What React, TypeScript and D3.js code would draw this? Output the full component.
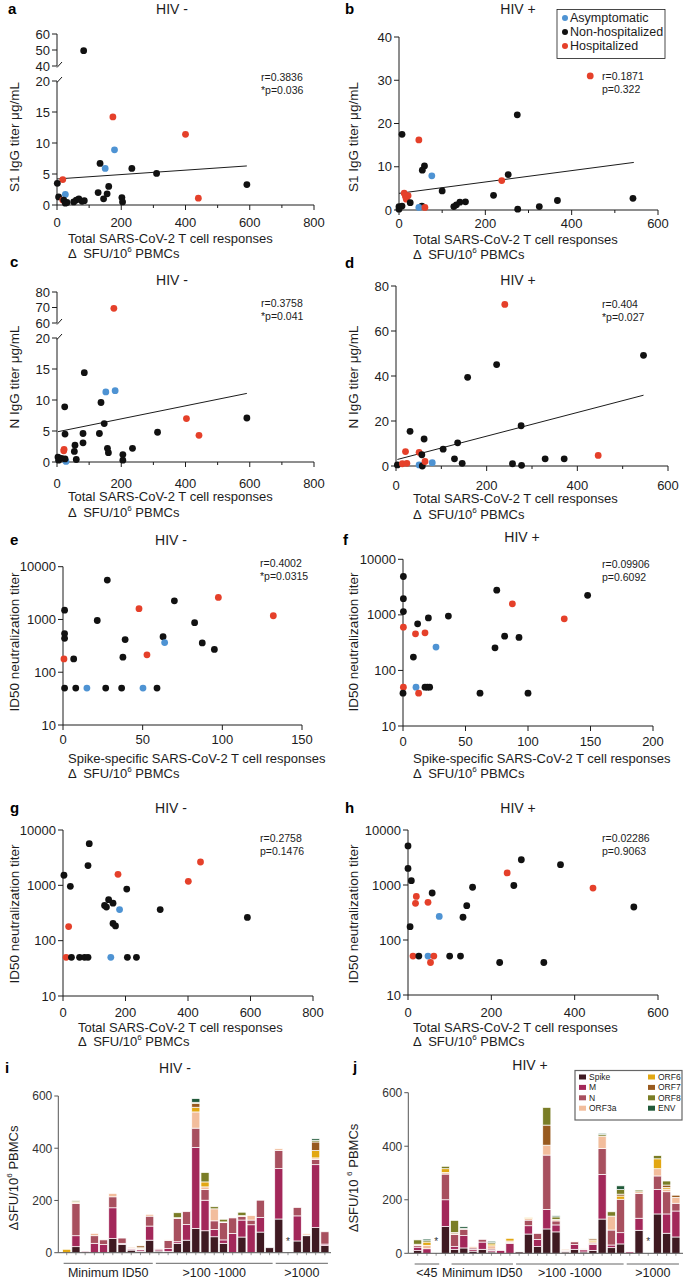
import * as d3 from 'd3'

type Grp = 'A' | 'N' | 'H'
type Pt = [number, number, Grp]

// scatter data: [T cell response, antibody / ID50, clinical group]
const aPts: Pt[] = [
  [83, 49.6, 'N'], [174, 14.2, 'H'], [400, 11.4, 'H'], [179, 8.9, 'A'], [134, 6.7, 'N'], [150, 5.9, 'A'],
  [233, 5.9, 'N'], [310, 5.1, 'N'], [18, 4.1, 'H'], [1, 3.5, 'N'], [591, 3.3, 'N'], [161, 3.0, 'N'],
  [26, 1.7, 'A'], [5, 1.3, 'N'], [128, 2.0, 'N'], [156, 1.8, 'N'], [145, 1.0, 'N'], [202, 1.2, 'N'],
  [204, 0.5, 'N'], [440, 1.1, 'H'], [18, 0.8, 'H'], [21, 0.8, 'N'], [26, 0.3, 'N'], [52, 0.5, 'N'],
  [60, 0.8, 'N'], [78, 0.6, 'N'], [31, 0.4, 'N'], [68, 1.0, 'N'], [85, 0.7, 'N'],
]
const bPts: Pt[] = [
  [7, 17.5, 'N'], [46, 16.2, 'H'], [274, 22.0, 'N'], [59, 10.2, 'N'], [54, 9.2, 'N'], [76, 7.9, 'A'],
  [253, 8.2, 'N'], [238, 6.8, 'H'], [100, 4.4, 'N'], [12, 3.9, 'H'], [15, 3.1, 'H'], [21, 3.3, 'H'],
  [17, 2.5, 'H'], [26, 1.7, 'N'], [219, 3.4, 'N'], [542, 2.7, 'N'], [367, 2.2, 'N'], [154, 1.9, 'N'],
  [141, 1.8, 'N'], [133, 1.2, 'N'], [127, 0.8, 'N'], [325, 0.8, 'N'], [275, 0.2, 'N'], [53, 0.9, 'N'],
  [46, 0.6, 'A'], [60, 0.6, 'H'], [0, 0.8, 'N'], [7, 0.9, 'N'], [0, 0.2, 'N'], [443, 31.0, 'H'],
]
const cPts: Pt[] = [
  [177, 69.5, 'H'], [85, 14.4, 'N'], [152, 11.3, 'A'], [181, 11.5, 'A'], [24, 8.9, 'N'], [137, 9.6, 'N'],
  [147, 6.2, 'N'], [591, 7.1, 'N'], [403, 7.0, 'H'], [442, 4.3, 'H'], [313, 4.8, 'N'], [25, 4.5, 'N'],
  [81, 4.6, 'N'], [132, 4.6, 'N'], [56, 2.7, 'N'], [81, 3.1, 'N'], [54, 1.7, 'N'], [22, 2.05, 'H'],
  [21, 1.8, 'H'], [157, 2.2, 'N'], [160, 1.5, 'N'], [235, 2.2, 'N'], [205, 1.2, 'N'], [3, 0.8, 'N'],
  [5, 0.3, 'N'], [28, 0.1, 'A'], [25, 0.5, 'N'], [60, 0.4, 'N'], [205, 0.3, 'N'], [14, 0.6, 'N'],
]
const dPts: Pt[] = [
  [240, 71.8, 'H'], [546, 49.2, 'N'], [222, 45.1, 'N'], [158, 39.4, 'N'], [276, 17.9, 'N'], [31, 15.4, 'N'],
  [62, 12.0, 'N'], [136, 10.3, 'N'], [104, 7.5, 'N'], [21, 6.4, 'H'], [51, 6.1, 'H'], [57, 5.0, 'N'],
  [129, 3.2, 'N'], [329, 3.2, 'N'], [371, 3.2, 'N'], [446, 4.7, 'H'], [3, 0.5, 'N'], [14, 1.0, 'H'],
  [24, 1.2, 'H'], [51, 0.5, 'A'], [58, 0.0, 'N'], [64, 2.0, 'H'], [80, 1.5, 'A'], [146, 1.2, 'N'],
  [257, 1.0, 'N'], [277, 0.3, 'N'],
]
const ePts: Pt[] = [
  [27.8, 5580, 'N'], [1, 1500, 'N'], [47.7, 1600, 'H'], [69.9, 2260, 'N'], [97.5, 2620, 'H'], [132, 1175, 'H'],
  [21.5, 955, 'N'], [82.6, 870, 'N'], [1, 540, 'N'], [1, 440, 'N'], [62.8, 470, 'N'], [63.8, 365, 'A'],
  [39, 415, 'N'], [87.4, 360, 'N'], [95, 270, 'N'], [0.6, 179, 'H'], [6.7, 179, 'N'], [37.6, 193, 'N'],
  [52.7, 214, 'H'], [1, 50, 'N'], [8, 50, 'N'], [15, 50, 'A'], [26.8, 50, 'N'], [36.8, 50, 'N'],
  [50.2, 50, 'A'], [59, 50, 'N'],
]
const fPts: Pt[] = [
  [0.3, 4900, 'N'], [0.3, 1960, 'N'], [0.3, 1145, 'N'], [0.3, 600, 'H'], [75, 2780, 'N'], [87.5, 1580, 'H'],
  [147.7, 2250, 'N'], [129, 850, 'H'], [36.3, 950, 'N'], [20.3, 880, 'N'], [11.7, 690, 'N'], [10, 455, 'H'],
  [17.6, 475, 'H'], [26.4, 263, 'A'], [73.6, 255, 'N'], [81.3, 414, 'N'], [92.8, 392, 'N'], [8.3, 174, 'N'],
  [0.3, 50, 'H'], [10.4, 50, 'A'], [17.6, 50, 'N'], [19.5, 50, 'N'], [21.3, 50, 'N'], [0, 39, 'N'],
  [12.5, 39, 'H'], [61.6, 39, 'N'], [100, 39, 'N'],
]
const gPts: Pt[] = [
  [84, 5650, 'N'], [80, 2280, 'N'], [3, 1520, 'N'], [23.5, 960, 'N'], [176, 1580, 'H'], [440, 2640, 'H'],
  [401, 1180, 'H'], [204, 855, 'N'], [146, 550, 'N'], [160, 475, 'N'], [133, 433, 'N'], [139, 404, 'N'],
  [181, 364, 'A'], [311, 364, 'N'], [590, 263, 'N'], [18, 180, 'H'], [160, 205, 'N'], [168, 185, 'N'],
  [10, 50, 'H'], [27, 50, 'N'], [53, 50, 'N'], [69, 50, 'N'], [80, 50, 'N'], [153, 50, 'A'],
  [206, 50, 'N'], [235, 50, 'N'],
]
const hPts: Pt[] = [
  [0, 5130, 'N'], [0, 2000, 'N'], [8, 1200, 'N'], [272, 2880, 'N'], [366, 2340, 'N'], [238, 1660, 'H'],
  [254, 980, 'N'], [444, 880, 'H'], [155, 910, 'N'], [58, 716, 'N'], [20, 620, 'H'], [18, 465, 'H'],
  [48, 485, 'H'], [141, 420, 'N'], [542, 398, 'N'], [75, 268, 'A'], [132, 259, 'N'], [5, 175, 'N'],
  [12, 51, 'H'], [26, 51, 'N'], [48, 51, 'A'], [62, 51, 'H'], [54, 39, 'H'], [100, 51, 'N'],
  [126, 51, 'N'], [220, 39, 'N'], [326, 39, 'N'],
]

// linear fits (a-d): intercept, slope, x span
const fitA = { b0: 4.2, b1: 0.00355, from: 0, to: 591 }
const fitB = { b0: 3.85, b1: 0.01314, from: 0, to: 544 }
const fitC = { b0: 4.86, b1: 0.0105, from: 3, to: 591 }
const fitD = { b0: 2.74, b1: 0.0526, from: 3, to: 546 }

const statsA = ['r=0.3836', '*p=0.036']
const statsB = ['r=0.1871', 'p=0.322']
const statsC = ['r=0.3758', '*p=0.041']
const statsD = ['r=0.404', '*p=0.027']
const statsE = ['r=0.4002', '*p=0.0315']
const statsF = ['r=0.09906', 'p=0.6092']
const statsG = ['r=0.2758', 'p=0.1476']
const statsH = ['r=0.02286', 'p=0.9063']

const groupNames: [Grp, string][] = [['A', 'Asymptomatic'], ['N', 'Non-hospitalized'], ['H', 'Hospitalized']]

// bar data (i: HIV-, j: HIV+), SFU per antigen
const barKeys = ['Spike', 'M', 'N', 'ORF3a', 'ORF6', 'ORF7', 'ORF8', 'ENV']
const spikeI = [0, 23, 0, 0, 0, 54, 32, 10, 5, 48, 6, 4, 36, 48, 93, 84, 61, 36, 0, 60, 0, 79, 19, 129, 0, 45, 65, 96, 27]
const mI = [0, 42, 5, 36, 31, 118, 4, 4, 6, 54, 5, 12, 6, 60, 310, 117, 28, 13, 74, 65, 107, 56, 0, 193, 0, 96, 0, 241, 6]
const nI = [0, 124, 0, 29, 18, 42, 20, 3, 3, 38, 4, 31, 89, 49, 74, 41, 33, 66, 59, 13, 18, 66, 0, 70, 0, 32, 3, 20, 47]
const orf3aI = [0, 3, 0, 9, 0, 13, 0, 4, 3, 7, 3, 2, 3, 0, 62, 10, 46, 3, 0, 4, 17, 0, 0, 6, 0, 0, 5, 6, 0]
const orf6I = [13, 3, 0, 0, 0, 0, 0, 0, 2, 0, 0, 0, 0, 0, 18, 19, 0, 0, 0, 0, 0, 0, 0, 0, 0, 0, 0, 28, 0]
const orf7I = [0, 0, 0, 0, 0, 0, 0, 0, 7, 0, 0, 0, 0, 0, 15, 0, 0, 0, 0, 0, 0, 0, 0, 0, 0, 0, 0, 33, 0]
const orf8I = [0, 4, 0, 0, 0, 0, 0, 0, 0, 0, 0, 0, 19, 0, 4, 36, 8, 10, 0, 13, 0, 0, 0, 0, 0, 0, 0, 6, 0]
const envI = [0, 0, 0, 0, 0, 0, 0, 0, 0, 0, 0, 0, 0, 0, 14, 0, 0, 0, 0, 0, 0, 0, 0, 0, 0, 0, 0, 6, 0]

const spikeJ = [10, 0, 0, 100, 15, 20, 8, 15, 5, 0, 0, 5, 72, 25, 91, 80, 5, 15, 5, 11, 128, 21, 35, 0, 86, 0, 147, 75, 61]
const mJ = [13, 17, 0, 100, 10, 46, 6, 27, 6, 10, 37, 0, 31, 27, 73, 26, 3, 18, 8, 22, 167, 10, 42, 5, 45, 0, 92, 72, 97]
const nJ = [6, 0, 0, 96, 45, 24, 6, 10, 5, 0, 3, 0, 21, 22, 203, 15, 3, 10, 3, 5, 97, 56, 125, 0, 93, 0, 50, 83, 29]
const orf3aJ = [5, 13, 0, 6, 3, 3, 5, 0, 12, 0, 6, 0, 6, 0, 37, 6, 4, 3, 3, 5, 46, 52, 0, 0, 6, 0, 27, 10, 22]
const orf6J = [0, 12, 0, 14, 0, 0, 0, 0, 7, 0, 10, 0, 3, 0, 0, 0, 0, 0, 0, 6, 0, 0, 12, 0, 0, 0, 37, 6, 0]
const orf7J = [0, 0, 0, 0, 5, 0, 0, 0, 0, 0, 0, 0, 0, 0, 75, 0, 0, 0, 0, 5, 0, 0, 7, 0, 0, 0, 0, 9, 8]
const orf8J = [16, 5, 0, 9, 45, 0, 0, 0, 5, 0, 0, 0, 0, 0, 66, 9, 0, 0, 0, 3, 6, 16, 17, 0, 6, 0, 12, 15, 0]
const envJ = [0, 6, 0, 0, 0, 6, 0, 0, 5, 0, 0, 0, 0, 0, 0, 4, 0, 0, 0, 0, 4, 0, 14, 0, 0, 0, 0, 0, 0]

const groupsI = [{ label: 'Minimum ID50', from: 0, to: 9 }, { label: '>100 -1000', from: 10, to: 22 }, { label: '>1000', from: 23, to: 28 }]
const groupsJ = [{ label: '<45', from: 0, to: 2 }, { label: 'Minimum ID50', from: 4, to: 10 }, { label: '>100 -1000', from: 11, to: 22 }, { label: '>1000', from: 23, to: 28 }]
const starsI = [24]
const starsJ = [2, 25]

const FONT = "'Liberation Sans', Arial, Helvetica, sans-serif"
const INK = '#1c1c1c'
const dotColor: Record<Grp, string> = { A: '#4e93d3', N: '#111111', H: '#e5402a' }
const barColor: Record<string, string> = {
  Spike: '#3f1a22', M: '#a3285a', N: '#a8505f', ORF3a: '#f2bd9c',
  ORF6: '#e2a712', ORF7: '#985a1f', ORF8: '#7a7d26', ENV: '#215a3a',
}

const SFU = 'Δ\u2002SFU/10'

const scatterPanels: any[] = [
  { letter: 'a', lx: 8, ly: 9, title: 'HIV -', tx: 172, ty: 9, xr: [57, 314], xd: [0, 800], xt: [0, 200, 400, 600, 800], xm: [100, 300, 500, 700],
    xty: 222, xl: 'Total SARS-CoV-2 T cell responses', xlx: 68, xly: [238, 253],
    y: { kind: 'broken', lo: [0, 20], loR: [205, 81], hi: [40, 60], hiR: [66, 34], loT: [0, 5, 10, 15, 20], hiT: [40, 50, 60] },
    yl: 'S1 IgG titer μg/mL', ylx: 14, yly: 137, pts: aPts, fit: fitA, stats: statsA, sx: 261, sy: 77 },
  { letter: 'b', lx: 345, ly: 9, title: 'HIV +', tx: 518, ty: 9, xr: [399, 658], xd: [0, 600], xt: [0, 200, 400, 600], xm: [100, 300, 500],
    xty: 223, xl: 'Total SARS-CoV-2 T cell responses', xlx: 413, xly: [239, 254],
    y: { kind: 'linear', d: [0, 40], r: [210, 37], t: [0, 10, 20, 30, 40] },
    yl: 'S1 IgG titer μg/mL', ylx: 353, yly: 137, pts: bPts, fit: fitB, stats: statsB, sx: 602, sy: 76, legend: true },
  { letter: 'c', lx: 10, ly: 262, title: 'HIV -', tx: 172, ty: 280, xr: [57, 314], xd: [0, 800], xt: [0, 200, 400, 600, 800], xm: [100, 300, 500, 700],
    xty: 483, xl: 'Total SARS-CoV-2 T cell responses', xlx: 68, xly: [496, 512],
    y: { kind: 'broken', lo: [0, 20], loR: [462, 338], hi: [60, 80], hiR: [323, 292], loT: [0, 5, 10, 15, 20], hiT: [60, 70, 80] },
    yl: 'N IgG titer μg/mL', ylx: 14, yly: 377, pts: cPts, fit: fitC, stats: statsC, sx: 261, sy: 303 },
  { letter: 'd', lx: 345, ly: 263, title: 'HIV +', tx: 518, ty: 280, xr: [396, 668], xd: [0, 600], xt: [0, 200, 400, 600], xm: [100, 300, 500],
    xty: 485, xl: 'Total SARS-CoV-2 T cell responses', xlx: 413, xly: [498, 514],
    y: { kind: 'linear', d: [0, 80], r: [466, 286], t: [0, 20, 40, 60, 80] },
    yl: 'N IgG titer μg/mL', ylx: 353, yly: 377, pts: dPts, fit: fitD, stats: statsD, sx: 602, sy: 304 },
  { letter: 'e', lx: 10, ly: 540, title: 'HIV -', tx: 171, ty: 540, xr: [63, 302], xd: [0, 150], xt: [0, 50, 100, 150], xm: [],
    xty: 739, xl: 'Spike-specific SARS-CoV-2 T cell responses', xlx: 68, xly: [758, 773],
    y: { kind: 'log', d: [10, 10000], r: [725, 566.7], t: [10, 100, 1000, 10000] },
    yl: 'ID50 neutralization titer', ylx: 14, yly: 642, pts: ePts, stats: statsE, sx: 260, sy: 563 },
  { letter: 'f', lx: 343, ly: 540, title: 'HIV +', tx: 522, ty: 537, xr: [403, 653], xd: [0, 200], xt: [0, 50, 100, 150, 200], xm: [],
    xty: 741, xl: 'Spike-specific SARS-CoV-2 T cell responses', xlx: 413, xly: [758, 773],
    y: { kind: 'log', d: [10, 10000], r: [726, 559.3], t: [10, 100, 1000, 10000] },
    yl: 'ID50 neutralization titer', ylx: 353, yly: 642, pts: fPts, stats: statsF, sx: 602, sy: 564 },
  { letter: 'g', lx: 10, ly: 808, title: 'HIV -', tx: 171, ty: 808, xr: [63, 313], xd: [0, 800], xt: [0, 200, 400, 600, 800], xm: [],
    xty: 1012, xl: 'Total SARS-CoV-2 T cell responses', xlx: 78, xly: [1027, 1041],
    y: { kind: 'log', d: [10, 10000], r: [996, 830], t: [10, 100, 1000, 10000] },
    yl: 'ID50 neutralization titer', ylx: 14, yly: 914, pts: gPts, stats: statsG, sx: 260, sy: 838 },
  { letter: 'h', lx: 345, ly: 808, title: 'HIV +', tx: 518, ty: 808, xr: [408, 658], xd: [0, 600], xt: [0, 200, 400, 600], xm: [],
    xty: 1012, xl: 'Total SARS-CoV-2 T cell responses', xlx: 413, xly: [1027, 1041],
    y: { kind: 'log', d: [10, 10000], r: [995, 830], t: [10, 100, 1000, 10000] },
    yl: 'ID50 neutralization titer', ylx: 353, yly: 914, pts: hPts, stats: statsH, sx: 602, sy: 838 },
]

function SfuText({ x, y, size, pre = SFU, anchor = 'start', rotate = false }: any) {
  return (
    <text x={x} y={y} fontSize={size} textAnchor={anchor} fill={INK}
      transform={rotate ? `rotate(-90 ${x} ${y})` : undefined}>
      {pre}<tspan dy={-size * 0.4} fontSize={size * 0.62}>6</tspan><tspan dy={size * 0.4}>{' PBMCs'}</tspan>
    </text>
  )
}

function Scatter({ p }: { p: any }) {
  const x = d3.scaleLinear().domain(p.xd).range(p.xr)
  const x0 = p.xr[0]
  let yPos: (v: number) => number
  let segs: number[][]
  let yTicks: { v: number; y: number }[]
  if (p.y.kind === 'broken') {
    const lo = d3.scaleLinear().domain(p.y.lo).range(p.y.loR)
    const hi = d3.scaleLinear().domain(p.y.hi).range(p.y.hiR)
    yPos = (v) => (v > p.y.lo[1] ? hi(v) : lo(v))
    segs = [p.y.loR, p.y.hiR]
    yTicks = [...p.y.loT.map((v: number) => ({ v, y: lo(v) })), ...p.y.hiT.map((v: number) => ({ v, y: hi(v) }))]
  } else {
    const s: any = p.y.kind === 'log' ? d3.scaleLog().domain(p.y.d).range(p.y.r) : d3.scaleLinear().domain(p.y.d).range(p.y.r)
    yPos = (v) => s(v)
    segs = [p.y.r]
    yTicks = p.y.t.map((v: number) => ({ v, y: s(v) }))
  }
  const base = segs[0][0]
  const line = d3.line<number>().x((v) => x(v)).y((v) => yPos(p.fit.b0 + p.fit.b1 * v))
  return (
    <g>
      <text x={p.lx} y={p.ly + 5} fontSize={15} fontWeight="bold" fill="#000">{p.letter}</text>
      <text x={p.tx} y={p.ty + 5} fontSize={14} textAnchor="middle" fill={INK}>{p.title}</text>
      {segs.map((s, i) => <line key={i} x1={x0} x2={x0} y1={s[0]} y2={s[1]} stroke={INK} />)}
      {p.y.kind === 'broken' && [p.y.loR[1], p.y.hiR[0]].map((yy: number, i: number) => (
        <line key={i} x1={x0} y1={yy + 1.5} x2={x0 + 5} y2={yy - 4} stroke={INK} />
      ))}
      <line x1={x0} x2={p.xr[1]} y1={base} y2={base} stroke={INK} />
      {yTicks.map((t) => (
        <g key={t.v}>
          <line x1={x0 - 5} x2={x0} y1={t.y} y2={t.y} stroke={INK} />
          <text x={x0 - 7} y={t.y + 4.5} fontSize={13} textAnchor="end" fill={INK}>{t.v}</text>
        </g>
      ))}
      {p.xt.map((v: number) => (
        <g key={v}>
          <line x1={x(v)} x2={x(v)} y1={base} y2={base + 5} stroke={INK} />
          <text x={x(v)} y={p.xty + 4.5} fontSize={13} textAnchor="middle" fill={INK}>{v}</text>
        </g>
      ))}
      {p.xm.map((v: number) => <line key={v} x1={x(v)} x2={x(v)} y1={base} y2={base + 3} stroke={INK} />)}
      <text x={p.xlx} y={p.xly[0] + 4.5} fontSize={13} fill={INK}>{p.xl}</text>
      <SfuText x={p.xlx} y={p.xly[1] + 4.5} size={13} />
      <text x={p.ylx} y={p.yly} fontSize={13.5} textAnchor="middle" fill={INK}
        transform={`rotate(-90 ${p.ylx} ${p.yly})`} dy={4.5}>{p.yl}</text>
      {p.fit && <path d={line([p.fit.from, p.fit.to]) || ''} stroke={INK} strokeWidth={1} fill="none" />}
      {p.pts.map((d: Pt, i: number) => (
        <circle key={i} cx={x(d[0])} cy={yPos(d[1])} r={3.4} fill={dotColor[d[2]]} />
      ))}
      {p.stats.map((s: string, i: number) => (
        <text key={i} x={p.sx} y={p.sy + i * 13.5 + 3.5} fontSize={10.5} fill={INK}>{s}</text>
      ))}
      {p.legend && (
        <g>
          <rect x={557} y={9.5} width={108} height={49} fill="#fff" stroke={INK} strokeWidth={0.8} />
          {groupNames.map(([g, name], i) => (
            <g key={g}>
              <circle cx={565} cy={18 + i * 14} r={3} fill={dotColor[g]} />
              <text x={570} y={18 + i * 14 + 4.3} fontSize={12.5} fill={INK}>{name}</text>
            </g>
          ))}
        </g>
      )}
    </g>
  )
}

const barPanels: any[] = [
  { letter: 'i', lx: 5, ly: 1068, title: 'HIV -', tx: 175, ty: 1068, ax: 58.3, xr: [62.1, 329.5], yr: [1252.7, 1096], axEnd: 331,
    series: [spikeI, mI, nI, orf3aI, orf6I, orf7I, orf8I, envI], groups: groupsI, stars: starsI, gy: 1263.3, ylx: 13, yly: 1178, pre: 'ΔSFU/10' },
  { letter: 'j', lx: 353, ly: 1067, title: 'HIV +', tx: 530, ty: 1065, ax: 408.3, xr: [413.1, 680.5], yr: [1253.3, 1092.7], axEnd: 683,
    series: [spikeJ, mJ, nJ, orf3aJ, orf6J, orf7J, orf8J, envJ], groups: groupsJ, stars: starsJ, gy: 1264, ylx: 353, yly: 1178, pre: 'ΔSFU/10 ', legend: true },
]

function Bars({ p }: { p: any }) {
  const n = p.series[0].length
  const rows = d3.range(n).map((i) => {
    const r: Record<string, number> = {}
    barKeys.forEach((k, j) => { r[k] = p.series[j][i] })
    return r
  })
  const stack = d3.stack<Record<string, number>>().keys(barKeys)(rows)
  const x = d3.scaleBand<number>().domain(d3.range(n)).range(p.xr).paddingInner(0.12).paddingOuter(0.06)
  const y = d3.scaleLinear().domain([0, 600]).range(p.yr)
  const bw = x.bandwidth()
  const AX = '#555'
  return (
    <g>
      <text x={p.lx} y={p.ly + 5} fontSize={15} fontWeight="bold" fill="#000">{p.letter}</text>
      <text x={p.tx} y={p.ty + 5} fontSize={14} textAnchor="middle" fill={INK}>{p.title}</text>
      {stack.map((layer) => layer.map((d, i) => (d[1] - d[0] > 0 ? (
        <rect key={layer.key + i} x={x(i)} y={y(d[1])} width={bw} height={y(d[0]) - y(d[1])}
          fill={barColor[layer.key]} stroke="#fff" strokeWidth={0.7} />
      ) : null)))}
      <line x1={p.ax} x2={p.ax} y1={y(0)} y2={y(600)} stroke={AX} />
      {[0, 200, 400, 600].map((v) => (
        <g key={v}>
          <line x1={p.ax - 4} x2={p.ax} y1={y(v)} y2={y(v)} stroke={AX} />
          <text x={p.ax - 6} y={y(v) + 4.3} fontSize={12} textAnchor="end" fill="#333">{v}</text>
        </g>
      ))}
      <line x1={p.ax} x2={p.axEnd} y1={y(0)} y2={y(0)} stroke={AX} />
      {d3.range(n).map((i) => (
        <line key={i} x1={x(i)! + bw / 2} x2={x(i)! + bw / 2} y1={y(0)} y2={y(0) + 2.5} stroke={AX} strokeWidth={0.6} />
      ))}
      {p.stars.map((i: number) => (
        <text key={i} x={x(i)! + bw / 2} y={y(0) - 8} fontSize={10} textAnchor="middle" fill="#333">*</text>
      ))}
      {p.groups.map((g: any) => {
        const x1 = x(g.from)! + 1
        const x2 = x(g.to)! + bw - 1
        return (
          <g key={g.label}>
            <line x1={x1} x2={x2} y1={p.gy} y2={p.gy} stroke="#666" />
            <text x={(x1 + x2) / 2} y={p.gy + 13.2} fontSize={12.5} textAnchor="middle" fill={INK}>{g.label}</text>
          </g>
        )
      })}
      <SfuText x={p.ylx + 4.5} y={p.yly} size={13} pre={p.pre} anchor="middle" rotate />
      {p.legend && (
        <g>
          <rect x={575} y={1070.5} width={107} height={49.5} fill="#fff" stroke="#666" strokeWidth={1.2} />
          {barKeys.map((k, i) => {
            const col = Math.floor(i / 4)
            const row = i % 4
            const lx = col === 0 ? 579 : 648
            const ly = 1077 + row * 10.4
            return (
              <g key={k}>
                <rect x={lx} y={ly - 2.5} width={7} height={5} fill={barColor[k]} />
                <text x={lx + 10} y={ly + 3} fontSize={8.5} fill={INK}>{k}</text>
              </g>
            )
          })}
        </g>
      )}
    </g>
  )
}

export default function App() {
  return (
    <svg width={685} height={1281} style={{ position: 'absolute', left: 0, top: 0, background: '#fff' }} fontFamily={FONT}>
      <rect width={685} height={1281} fill="#fff" />
      {scatterPanels.map((p) => <Scatter key={p.letter} p={p} />)}
      {barPanels.map((p) => <Bars key={p.letter} p={p} />)}
    </svg>
  )
}
